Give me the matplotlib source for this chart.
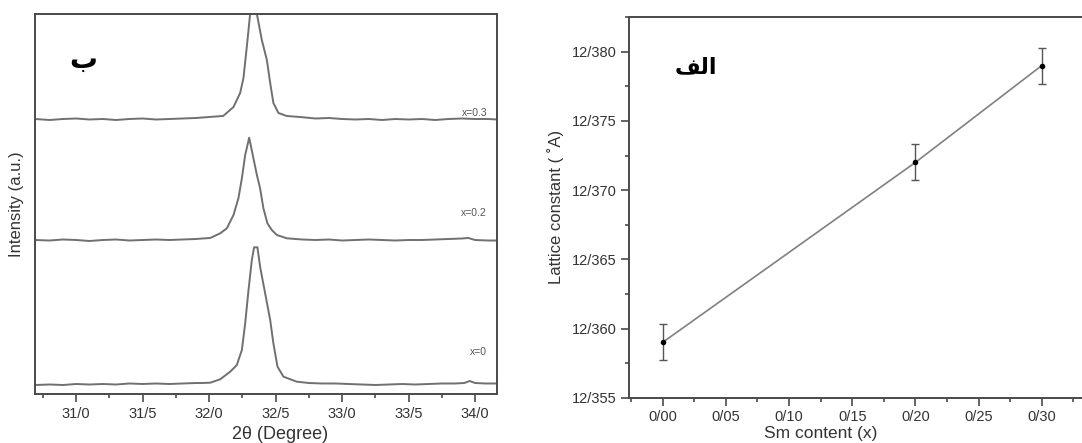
import matplotlib
matplotlib.use('Agg')
import matplotlib.pyplot as plt
from matplotlib.ticker import MultipleLocator

plt.rcParams['font.family'] = ['Liberation Sans', 'DejaVu Sans']

#%% data - XRD peaks (intensity in a.u.)
deg_x03 = [30.69, 30.8, 30.9, 31.0, 31.1, 31.2, 31.3, 31.4, 31.5, 31.6, 31.7, 31.8, 31.9, 32.0,
           32.05, 32.105, 32.183, 32.233, 32.258, 32.283, 32.308, 32.335, 32.359, 32.396, 32.434,
           32.459, 32.483, 32.521, 32.584, 32.684, 32.8, 32.9, 33.0, 33.1, 33.2, 33.3, 33.4, 33.5,
           33.6, 33.7, 33.8, 33.9, 34.0, 34.1, 34.165]
int_x03 = [275, 274, 275, 275.5, 274.5, 275, 274, 275, 275.5, 274.5, 275, 275.5, 276, 277,
           277.5, 278, 287, 301, 316, 347, 380, 404, 380, 354, 334,
           311, 291, 281, 278, 277, 275.5, 276, 275, 274.5, 275, 274, 275, 274.5,
           275, 274, 275, 275.5, 275, 275, 274.5]

deg_x02 = [30.69, 30.8, 30.9, 31.0, 31.1, 31.2, 31.3, 31.4, 31.5, 31.6, 31.7, 31.8, 31.9, 31.95,
           32.008, 32.083, 32.133, 32.183, 32.220, 32.246, 32.271, 32.301, 32.333, 32.359, 32.383,
           32.408, 32.438, 32.471, 32.509, 32.584, 32.7, 32.8, 32.9, 33.0, 33.1, 33.2, 33.3, 33.4,
           33.5, 33.6, 33.7, 33.8, 33.9, 33.95, 34.0, 34.1, 34.165]
int_x02 = [154, 153.5, 154.5, 154, 153, 154, 154.5, 153.5, 154, 154.5, 154, 154.5, 155, 155.5,
           156, 160.7, 165.7, 179, 195.7, 215.7, 239, 256.3, 235.7, 219, 205.7,
           185.7, 170.7, 164, 159, 155.7, 154.5, 154, 154.5, 153.5, 154, 154.5, 154, 153.5,
           154, 154, 154.5, 155, 155.5, 156, 154, 153.5, 153.5]

deg_x0 = [30.69, 30.8, 30.9, 31.0, 31.1, 31.2, 31.3, 31.4, 31.5, 31.6, 31.7, 31.8, 31.9, 31.95,
          32.008, 32.083, 32.158, 32.208, 32.246, 32.271, 32.296, 32.321, 32.338, 32.363, 32.383,
          32.421, 32.459, 32.483, 32.514, 32.559, 32.659, 32.75, 32.85, 32.95, 33.05, 33.15, 33.25,
          33.35, 33.45, 33.55, 33.65, 33.75, 33.85, 33.92, 33.96, 34.0, 34.08, 34.165]
int_x0 = [9, 9.5, 9, 10, 9.5, 10, 9.5, 10.5, 10, 10.5, 10, 10.5, 11, 11,
          11.3, 14.7, 22.3, 29, 44, 70.7, 104, 134, 146.7, 146.7, 127.3,
          100.7, 74, 50.7, 27.3, 17.3, 12.3, 11, 10.5, 10.5, 10, 9.5, 9,
          9.5, 10, 9.5, 10, 10.5, 10.5, 11, 13, 11, 10.5, 10.5]

curve_labels = ['x=0.3', 'x=0.2', 'x=0']
label_pos = [(34.09, 281), (34.09, 181), (34.09, 42)]

xrd_ticks = [31.0, 31.5, 32.0, 32.5, 33.0, 33.5, 34.0]
xrd_ticklabels = ['31/0', '31/5', '32/0', '32/5', '33/0', '33/5', '34/0']

#%% data - lattice constant vs Sm content
sm_content = [0.00, 0.20, 0.30]
lattice = [12.359, 12.372, 12.379]
lattice_err = [0.0013, 0.0013, 0.0013]

sm_ticks = [0.00, 0.05, 0.10, 0.15, 0.20, 0.25, 0.30]
sm_ticklabels = ['0/00', '0/05', '0/10', '0/15', '0/20', '0/25', '0/30']
lat_ticks = [12.355, 12.360, 12.365, 12.370, 12.375, 12.380]
lat_ticklabels = ['12/355', '12/360', '12/365', '12/370', '12/375', '12/380']

# Arabic panel letters, pre-shaped (visual order) since matplotlib does no shaping
letter_b = '\uFE8F'
letter_alef = '\uFED2\uFEDF\uFE8D'

spine_col = '#4a4a4a'
line_col = '#707070'
txt_col = '#333333'

fig = plt.figure(figsize=(10.82, 4.43), dpi=100)

#%% left panel
ax1 = fig.add_axes([35/1082, 49/443, 462/1082, 380/443])
ax1.plot(deg_x03, int_x03, color=line_col, lw=1.4)
ax1.plot(deg_x02, int_x02, color=line_col, lw=1.4)
ax1.plot(deg_x0, int_x0, color=line_col, lw=1.4)
for lab, (lx, ly) in zip(curve_labels, label_pos):
    ax1.text(lx, ly, lab, fontsize=7.5, color='#555555', ha='right', va='center')
ax1.set_xlim(30.69, 34.165)
ax1.set_ylim(0, 380)
ax1.set_xticks(xrd_ticks)
ax1.set_xticklabels(xrd_ticklabels)
ax1.xaxis.set_minor_locator(MultipleLocator(0.25))
ax1.set_yticks([])
ax1.tick_params(axis='x', which='major', direction='out', length=6, width=1.2,
                color=spine_col, labelsize=10.5, labelcolor=txt_col, pad=3)
ax1.tick_params(axis='x', which='minor', direction='out', length=3, width=1.2, color=spine_col)
for sp in ax1.spines.values():
    sp.set_color(spine_col)
    sp.set_linewidth(1.4)
ax1.set_xlabel('2\u03b8 (Degree)', fontsize=13, color=txt_col, labelpad=1)
ax1.xaxis.set_label_coords(0.53, -0.085)
ax1.set_ylabel('Intensity (a.u.)', fontsize=12, color=txt_col, labelpad=8)
ax1.text(31.05, 334, letter_b, fontsize=20, fontweight='bold',
         family=['DejaVu Sans'], ha='center', va='center', color='black')

#%% right panel
ax2 = fig.add_axes([629.3/1082, 45.3/443, 463/1082, 381/443])
ax2.plot(sm_content, lattice, color='#808080', lw=1.2, zorder=2)
ax2.errorbar(sm_content, lattice, yerr=lattice_err, fmt='o', ms=3, color='black',
             ecolor='#555555', elinewidth=1.0, capsize=3, capthick=1.0, zorder=3)
ax2.set_xlim(-0.0264, 0.34)
ax2.set_ylim(12.355, 12.38253)
ax2.set_xticks(sm_ticks)
ax2.set_xticklabels(sm_ticklabels)
ax2.set_yticks(lat_ticks)
ax2.set_yticklabels(lat_ticklabels)
ax2.xaxis.set_minor_locator(MultipleLocator(0.025))
ax2.yaxis.set_minor_locator(MultipleLocator(0.0025))
ax2.tick_params(which='major', direction='out', length=6, width=1.2, color=spine_col,
                labelsize=10.5, labelcolor=txt_col, pad=3)
ax2.tick_params(which='minor', direction='out', length=3, width=1.2, color=spine_col)
ax2.spines['right'].set_visible(False)
for sp in ['left', 'top', 'bottom']:
    ax2.spines[sp].set_color(spine_col)
    ax2.spines[sp].set_linewidth(1.4)
ax2.set_xlabel('Sm content (x)', fontsize=12.5, color=txt_col, labelpad=2)
ax2.xaxis.set_label_coords((0.125 + 0.0264) / 0.3664, -0.075)
ax2.set_ylabel('Lattice constant ( \u02daA)', fontsize=12, color=txt_col, labelpad=6)
ax2.text(0.0265, 12.3789, letter_alef, fontsize=16, fontweight='bold',
         family=['DejaVu Sans'], ha='center', va='center', color='black')

fig.savefig('out.png', dpi=100)
